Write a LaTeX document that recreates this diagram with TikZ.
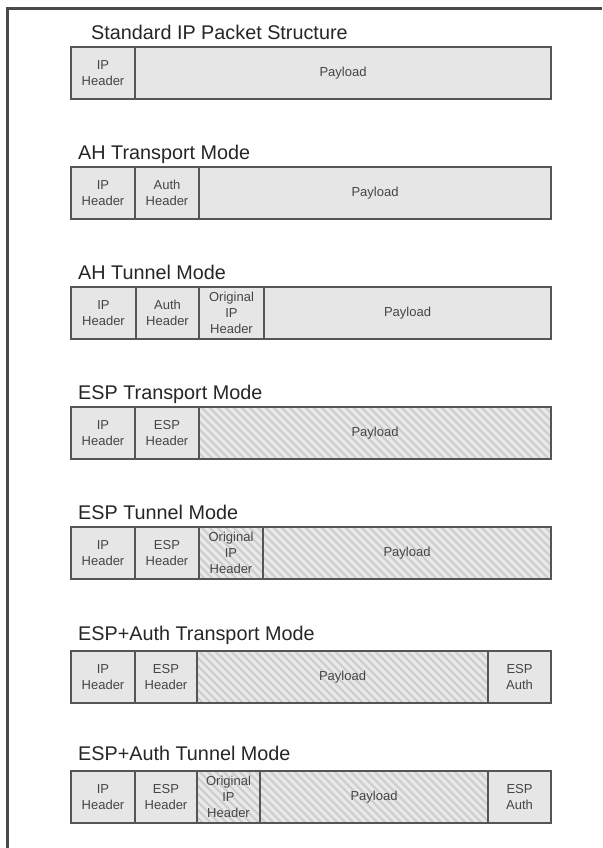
\documentclass[tikz,border=0pt]{standalone}
\usepackage{fontspec}
\setmainfont{Liberation Sans}
\usetikzlibrary{calc}
\definecolor{cellfill}{HTML}{E6E6E6}
\definecolor{hatchfill}{HTML}{E9E9E9}
\definecolor{hatchline}{HTML}{CECECE}
\definecolor{celledge}{HTML}{555555}
\definecolor{celltext}{HTML}{454545}
\definecolor{titletext}{HTML}{262626}
\definecolor{framecol}{HTML}{4A4A4A}
\tikzset{
  cell/.style={draw=celledge, line width=1.5pt, fill=cellfill, inner sep=0pt, outer sep=0pt,
    minimum height=52pt, align=center, text=celltext, font=\fontsize{13}{16}\selectfont},
  hatched/.style={fill=hatchfill, path picture={
    \foreach \k in {-9,...,50}
      \draw[hatchline, line width=2.4pt]
        ($(path picture bounding box.north west)+(\k*8pt,2pt)$) -- ++(64pt,-64pt);}},
  plain/.style={},
  title/.style={anchor=base west, inner sep=0pt, text=titletext, font=\fontsize{19.8}{24}\selectfont},
  frameline/.style={draw=framecol, line width=2.4pt}
}
\newcommand\pcell[6]{\node[cell,#5,minimum width=#3pt-#2pt,anchor=north west] (#1) at (#2,#4) {#6};}
\begin{document}
\begin{tikzpicture}[x=1pt,y=-1pt]
\useasboundingbox (0,0) rectangle (602,848);
\fill[white] (0,0) rectangle (602,848);
\draw[frameline] (7.5,848) -- (7.5,8.5) -- (602,8.5);

% Row 1
\node[title] (t1) at (91,39.3) {Standard IP Packet Structure};
\pcell{r1a}{71}{135}{47}{plain}{IP\\Header}
\pcell{r1b}{135}{551}{47}{plain}{Payload}

% Row 2
\node[title] (t2) at (78,159.3) {AH Transport Mode};
\pcell{r2a}{71}{135}{167}{plain}{IP\\Header}
\pcell{r2b}{135}{199}{167}{plain}{Auth\\Header}
\pcell{r2c}{199}{551}{167}{plain}{Payload}

% Row 3
\node[title] (t3) at (78,279.3) {AH Tunnel Mode};
\pcell{r3a}{71}{136}{287}{plain}{IP\\Header}
\pcell{r3b}{136}{199}{287}{plain}{Auth\\Header}
\pcell{r3c}{199}{264}{287}{plain}{Original\\IP\\Header}
\pcell{r3d}{264}{551}{287}{plain}{Payload}

% Row 4
\node[title] (t4) at (78,399.3) {ESP Transport Mode};
\pcell{r4a}{71}{135}{407}{plain}{IP\\Header}
\pcell{r4b}{135}{199}{407}{plain}{ESP\\Header}
\pcell{r4c}{199}{551}{407}{hatched}{Payload}

% Row 5
\node[title] (t5) at (78,519.3) {ESP Tunnel Mode};
\pcell{r5a}{71}{135}{527}{plain}{IP\\Header}
\pcell{r5b}{135}{199}{527}{plain}{ESP\\Header}
\pcell{r5c}{199}{263}{527}{hatched}{Original\\IP\\Header}
\pcell{r5d}{263}{551}{527}{hatched}{Payload}

% Row 6
\node[title] (t6) at (78,640.7) {ESP+Auth Transport Mode};
\pcell{r6a}{71}{135}{651}{plain}{IP\\Header}
\pcell{r6b}{135}{197}{651}{plain}{ESP\\Header}
\pcell{r6c}{197}{488}{651}{hatched}{Payload}
\pcell{r6d}{488}{551}{651}{plain}{ESP\\Auth}

% Row 7
\node[title] (t7) at (78,760.5) {ESP+Auth Tunnel Mode};
\pcell{r7a}{71}{135}{771}{plain}{IP\\Header}
\pcell{r7b}{135}{197}{771}{plain}{ESP\\Header}
\pcell{r7c}{197}{260}{771}{hatched}{Original\\IP\\Header}
\pcell{r7d}{260}{488}{771}{hatched}{Payload}
\pcell{r7e}{488}{551}{771}{plain}{ESP\\Auth}
\end{tikzpicture}
\end{document}
